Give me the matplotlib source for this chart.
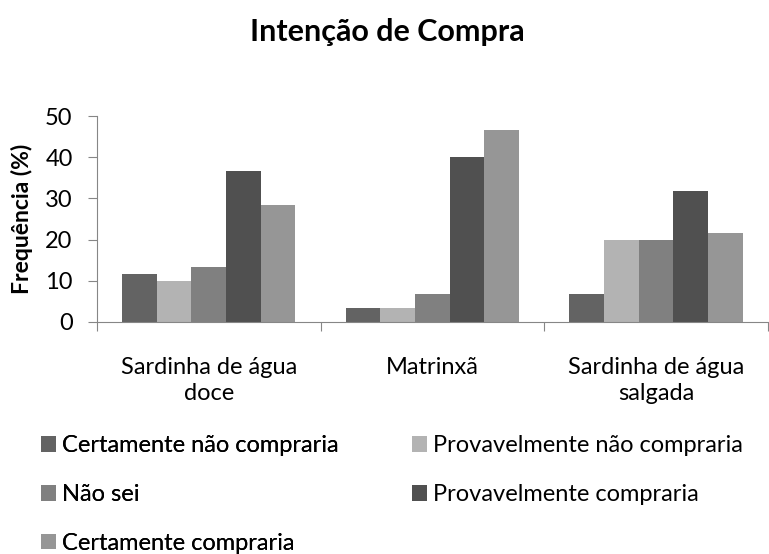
import matplotlib
matplotlib.use('Agg')
from matplotlib import pyplot as plt
import numpy as np

plt.rcParams['font.family'] = ['Lato', 'DejaVu Sans']

categories = ['Sardinha de água\ndoce', 'Matrinxã', 'Sardinha de água\nsalgada']
series = ['Certamente não compraria', 'Provavelmente não compraria', 'Não sei',
          'Provavelmente compraria', 'Certamente compraria']
certamente_nao = [11.7, 3.3, 6.7]
provavelmente_nao = [10.0, 3.3, 20.0]
nao_sei = [13.3, 6.7, 20.0]
provavelmente_sim = [36.7, 40.0, 31.7]
certamente_sim = [28.3, 46.7, 21.7]
values = [certamente_nao, provavelmente_nao, nao_sei, provavelmente_sim, certamente_sim]
colors = ['#636363', '#b3b3b3', '#808080', '#505050', '#969696']

fs = 17
fig = plt.figure(figsize=(7.69, 5.54), dpi=100)
ax = fig.add_axes([0.1261, 0.4188, 0.8726, 0.3718])

x = np.arange(len(categories))
w = 0.155
handles = []
for i, (vals, c) in enumerate(zip(values, colors)):
    b = ax.bar(x + (i - 2) * w, vals, w, color=c, label=series[i])
    handles.append(b)

ax.set_xlim(-0.5, 2.5)
ax.set_ylim(0, 50)
ax.set_yticks(range(0, 51, 10))
ax.set_xticks(np.arange(-0.5, 2.6, 1))
ax.set_xticklabels([])
ax.set_xticks(x, minor=True)
ax.set_xticklabels(categories, minor=True, fontsize=fs, linespacing=1.3)
ax.tick_params(axis='x', which='minor', length=0, pad=25)
ax.tick_params(axis='x', which='major', length=6.5, color='#868686')
ax.tick_params(axis='y', length=6.5, color='#868686', labelsize=fs, pad=11)
for s in ['top', 'right']:
    ax.spines[s].set_visible(False)
for s in ['left', 'bottom']:
    ax.spines[s].set_color('#868686')

fig.text(22 / 769, 1 - 219 / 554, 'Frequência (%)', rotation=90, fontsize=16.5,
         fontweight='bold', ha='center', va='center')
fig.text(0.504, 1 - 32 / 554, 'Intenção de Compra', fontsize=22,
         fontweight='bold', ha='center', va='center')

# two legends so rows read left-to-right like the original
leg_kw = dict(loc='upper left', frameon=False, fontsize=fs, handlelength=0.65,
              handleheight=0.65, handletextpad=0.25, labelspacing=1.17,
              borderaxespad=0, borderpad=0)
leg1 = fig.legend([handles[i] for i in [0, 2, 4]], [series[i] for i in [0, 2, 4]],
                  bbox_to_anchor=(41 / 769, 0.214), **leg_kw)
fig.add_artist(leg1)
fig.legend([handles[i] for i in [1, 3]], [series[i] for i in [1, 3]],
           bbox_to_anchor=(412 / 769, 0.214), **leg_kw)

plt.savefig('out.png', dpi=100)
